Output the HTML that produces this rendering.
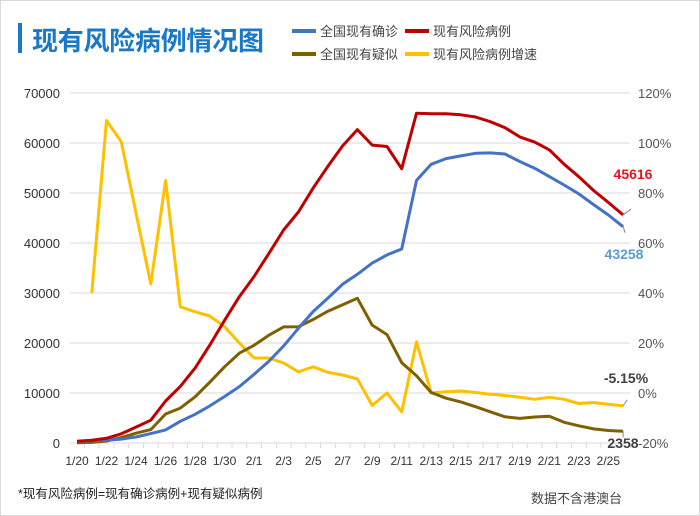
<!DOCTYPE html>
<html><head><meta charset="utf-8">
<style>
body{margin:0;background:#fff;}
#wrap{position:relative;width:700px;height:516px;overflow:hidden;background:#fff;font-family:"Liberation Sans","Noto Sans CJK SC",sans-serif;}
svg text{font-family:"Liberation Sans","Noto Sans CJK SC",sans-serif;}
</style></head>
<body>
<div id="wrap">
<svg id="chart" width="700" height="516">
<rect x="0.5" y="0.5" width="699" height="515" fill="#fff" stroke="#d9d9d9"/>
<rect x="18" y="23" width="4" height="30" fill="#1a78c8"/>
<text x="32" y="50" font-size="26" font-weight="bold" fill="#1a78c8" textLength="232">现有风险病例情况图</text>
<g id="legend"></g>
<g id="grid"></g><g id="axes"></g><g id="series"></g>
<text x="18" y="498" font-size="12.5" fill="#222">*现有风险病例=现有确诊病例+现有疑似病例</text>
<text x="531" y="503" font-size="13" fill="#444">数据不含港澳台</text>
</svg>
</div>
<script>
const categories=["1/20","1/21","1/22","1/23","1/24","1/25","1/26","1/27","1/28","1/29","1/30","1/31","2/1","2/2","2/3","2/4","2/5","2/6","2/7","2/8","2/9","2/10","2/11","2/12","2/13","2/14","2/15","2/16","2/17","2/18","2/19","2/20","2/21","2/22","2/23","2/24","2/25","2/26"];
const confirmed=[291,431,554,771,1208,1870,2613,4349,5739,7417,9308,11289,13748,16369,19381,22942,26302,28985,31774,33738,35982,37626,38800,52526,55748,56873,57416,57934,58016,57805,56303,54965,53284,51606,49824,47672,45604,43258];
const suspected=[54,120,393,1072,1965,2684,5794,6973,9239,12167,15238,17988,19544,21558,23214,23260,24702,26359,27657,28942,23589,21675,16067,13435,10109,8969,8228,7264,6242,5248,4922,5206,5365,4148,3434,2824,2491,2358];
const risk=[345,551,947,1843,3173,4554,8407,11322,14978,19584,24546,29277,33292,37927,42595,46202,51004,55344,59431,62680,59571,59301,54867,65961,65857,65842,65644,65198,64258,63053,61225,60171,58649,55754,53258,50496,48095,45616];
const growth=[null,40,109,100.5,72,43.6,85,34.5,32.5,30.8,26.5,20,14,14,12,8.5,10.5,8.3,7.2,5.6,-5,0,-7.5,20.5,0,0.5,0.8,0.2,-0.5,-1,-1.7,-2.5,-1.7,-2.5,-4.2,-3.8,-4.5,-5.15];
const leftTicks=[0,10000,20000,30000,40000,50000,60000,70000];
const rightTicks=[-20,0,20,40,60,80,100,120];

const NS="http://www.w3.org/2000/svg";
const X0=77,DX=14.76,YB=443,YT=93;
const xs=i=>X0+i*DX;
const yl=v=>YB-(v/70000)*(YB-YT);
const yr=p=>YB-((p+20)/140)*(YB-YT);
function mk(tag,attrs,parent,txt){const e=document.createElementNS(NS,tag);for(const k in attrs)e.setAttribute(k,attrs[k]);if(txt!==undefined)e.textContent=txt;document.getElementById(parent).appendChild(e);return e;}

leftTicks.forEach(v=>{
  const g=mk('line',{x1:70,x2:630,y1:yl(v),y2:yl(v),stroke:'#d9d9d9','stroke-width':1},'grid');
  
  
  const t=mk('text',{x:60,y:yl(v)+5,'text-anchor':'end','font-size':13,fill:'#333'},'axes',v);
  
  
});
rightTicks.forEach(p=>{
  const t=mk('text',{x:638,y:yr(p)+5,'font-size':13,fill:'#555'},'axes',p+'%');
  
  
});
categories.forEach((c,i)=>{
  const tk=mk('line',{x1:xs(i)+DX/2,x2:xs(i)+DX/2,y1:YB,y2:YB+5,stroke:'#d9d9d9'},'axes');
  
  
  if(i%2===0&&i<37){
    const t=mk('text',{x:xs(i),y:465,'text-anchor':'middle','font-size':12,fill:'#333'},'axes',c);
    
    
  }
});
function line(arr,yf,color,name){
  let d='';arr.forEach((v,i)=>{if(v===null)return;d+=(d?'L':'M')+xs(i).toFixed(1)+','+yf(v).toFixed(1);});
  const p=mk('path',{d:d,fill:'none',stroke:color,'stroke-width':3,'stroke-linejoin':'round'},'series');
  
  
}
line(growth,yr,'#ffc000','series-risk-growth');
line(suspected,yl,'#7f6000','series-suspected');
line(confirmed,yl,'#4472c4','series-confirmed');
line(risk,yl,'#c00000','series-risk');

const L=categories.length-1,xl=xs(L);
function lab(txt,x,y,color,name,lx,ly){
  const ln=mk('line',{x1:xl,y1:ly,x2:lx,y2:ly+(ly>y?-6:6),stroke:'#888'},'series');
  
  
  const t=mk('text',{x:x,y:y,'font-size':14,'font-weight':'bold',fill:color,'text-anchor':'middle'},'series',txt);
  
  
}
lab(String(risk[L]),633,179,'#e8141c','label-risk-last',xl+8,yl(risk[L]));
lab(String(confirmed[L]),624,259,'#5b9bd5','label-confirmed-last',xl+2,yl(confirmed[L]));
lab(growth[L].toFixed(2)+'%',626,383,'#404040','label-growth-last',xl+4,yr(growth[L]));
lab(String(suspected[L]),623,448,'#404040','label-suspected-last',xl,yl(suspected[L]));

const leg=[["全国现有确诊",'#4472c4',292,31],["现有风险病例",'#c00000',405,31],["全国现有疑似",'#7f6000',292,54],["现有风险病例增速",'#ffc000',405,54]];
leg.forEach(e=>{
  const l=mk('line',{x1:e[2],x2:e[2]+24,y1:e[3],y2:e[3],stroke:e[1],'stroke-width':4},'legend');
  
  
  const t=mk('text',{x:e[2]+28,y:e[3]+5,'font-size':13,fill:'#444'},'legend',e[0]);
  
  
});
</script>
</body></html>
